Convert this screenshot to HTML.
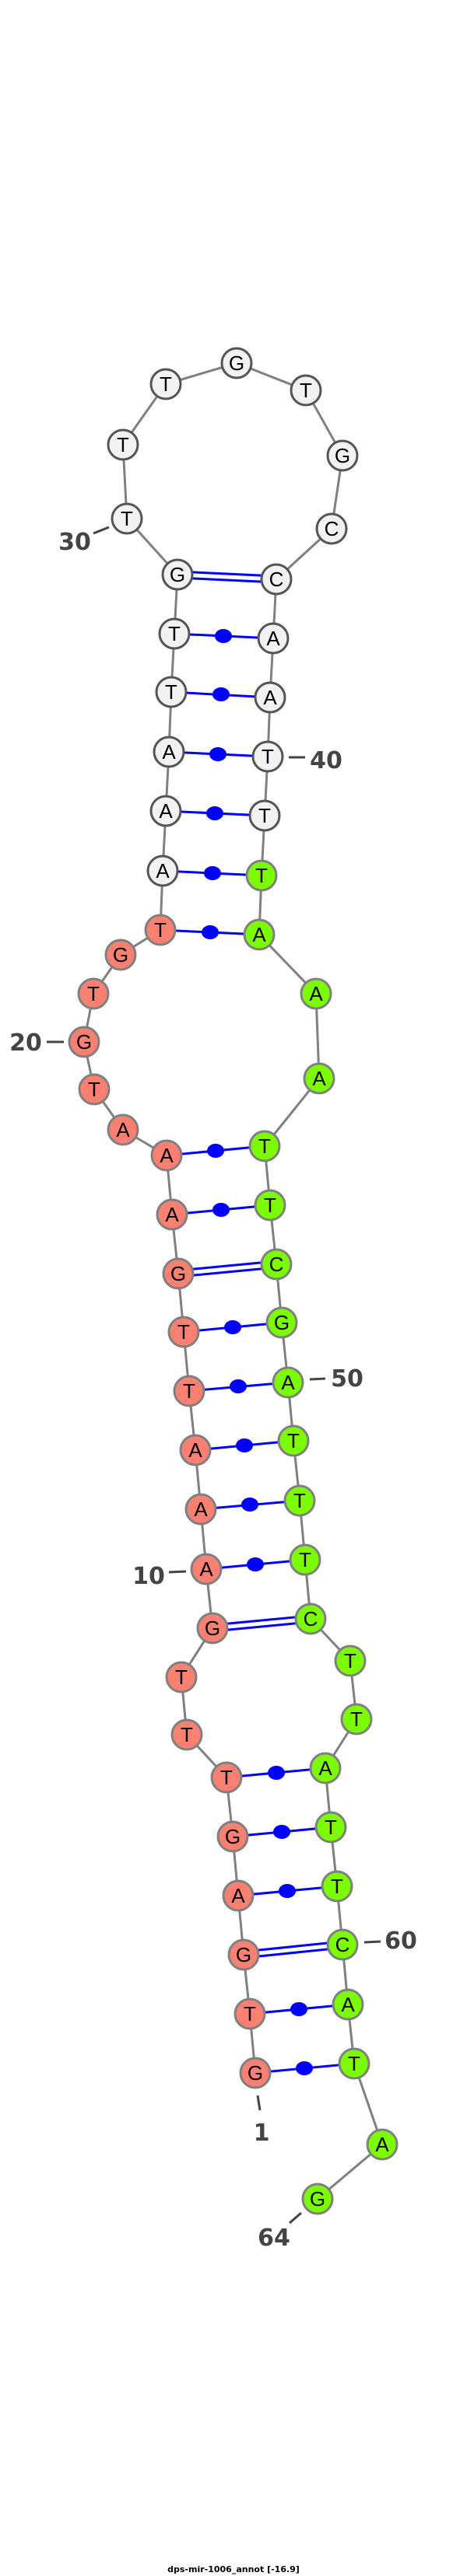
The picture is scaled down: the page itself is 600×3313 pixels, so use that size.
<!DOCTYPE html>
<html><head><meta charset="utf-8"><style>html,body{margin:0;padding:0;background:#fff}svg{display:block}</style></head>
<body>
<svg width="600" height="3313" viewBox="0 0 600 3313" xmlns="http://www.w3.org/2000/svg">
<g stroke="#808080" stroke-width="3" fill="none">
<polyline points="328,2666 321,2590 313,2514 306,2438 299,2362 291,2286 240,2231 233,2157 273,2094 265,2018 258,1941 251,1865 243,1789 236,1713 229,1638 221,1562 214,1486 158,1453 121,1401 108,1340 120,1278 155,1228 206,1196 209,1120 213,1043 217,967 220,890 224,815 228,739 163,667 158,572 213,494 304,467 393,502 440,586 426,680 355,745 351,821 347,897 344,973 340,1049 336,1126 333,1202 406,1278 410,1387 340,1474 347,1550 355,1626 362,1701 370,1778 377,1853 385,1930 392,2006 399,2082 450,2136 458,2211 418,2274 425,2350 433,2426 440,2501 447,2578 455,2654 491,2758 408,2828"/>
</g>
<g stroke="#0000ff" stroke-width="3">
<line x1="328" y1="2666" x2="455" y2="2654"/>
<line x1="321" y1="2590" x2="447" y2="2578"/>
<line x1="313" y1="2510" x2="440" y2="2497"/><line x1="313" y1="2518" x2="440" y2="2505"/>
<line x1="306" y1="2438" x2="433" y2="2426"/>
<line x1="299" y1="2362" x2="425" y2="2350"/>
<line x1="291" y1="2286" x2="418" y2="2274"/>
<line x1="273" y1="2090" x2="399" y2="2078"/><line x1="273" y1="2098" x2="399" y2="2086"/>
<line x1="265" y1="2018" x2="392" y2="2006"/>
<line x1="258" y1="1941" x2="385" y2="1930"/>
<line x1="251" y1="1865" x2="377" y2="1853"/>
<line x1="243" y1="1789" x2="370" y2="1778"/>
<line x1="236" y1="1713" x2="362" y2="1701"/>
<line x1="229" y1="1634" x2="355" y2="1622"/><line x1="229" y1="1642" x2="355" y2="1630"/>
<line x1="221" y1="1562" x2="347" y2="1550"/>
<line x1="214" y1="1486" x2="340" y2="1474"/>
<line x1="206" y1="1196" x2="333" y2="1202"/>
<line x1="209" y1="1120" x2="336" y2="1126"/>
<line x1="213" y1="1043" x2="340" y2="1049"/>
<line x1="217" y1="967" x2="344" y2="973"/>
<line x1="220" y1="890" x2="347" y2="897"/>
<line x1="224" y1="815" x2="351" y2="821"/>
<line x1="228" y1="735" x2="355" y2="741"/><line x1="228" y1="743" x2="355" y2="749"/>
</g>
<g fill="#0000ff">
<ellipse cx="391" cy="2660" rx="11" ry="9"/>
<ellipse cx="384" cy="2584" rx="11" ry="9"/>
<ellipse cx="369" cy="2432" rx="11" ry="9"/>
<ellipse cx="362" cy="2356" rx="11" ry="9"/>
<ellipse cx="355" cy="2280" rx="11" ry="9"/>
<ellipse cx="328" cy="2012" rx="11" ry="9"/>
<ellipse cx="321" cy="1935" rx="11" ry="9"/>
<ellipse cx="314" cy="1859" rx="11" ry="9"/>
<ellipse cx="306" cy="1783" rx="11" ry="9"/>
<ellipse cx="299" cy="1707" rx="11" ry="9"/>
<ellipse cx="284" cy="1556" rx="11" ry="9"/>
<ellipse cx="277" cy="1480" rx="11" ry="9"/>
<ellipse cx="270" cy="1199" rx="11" ry="9"/>
<ellipse cx="273" cy="1123" rx="11" ry="9"/>
<ellipse cx="276" cy="1046" rx="11" ry="9"/>
<ellipse cx="280" cy="970" rx="11" ry="9"/>
<ellipse cx="284" cy="893" rx="11" ry="9"/>
<ellipse cx="287" cy="818" rx="11" ry="9"/>
</g>
<g stroke-width="3">
<g fill="#fa8072" stroke="#808080">
<circle cx="328" cy="2666" r="19"/><circle cx="321" cy="2590" r="19"/><circle cx="313" cy="2514" r="19"/><circle cx="306" cy="2438" r="19"/><circle cx="299" cy="2362" r="19"/><circle cx="291" cy="2286" r="19"/><circle cx="240" cy="2231" r="19"/><circle cx="233" cy="2157" r="19"/><circle cx="273" cy="2094" r="19"/><circle cx="265" cy="2018" r="19"/><circle cx="258" cy="1941" r="19"/><circle cx="251" cy="1865" r="19"/><circle cx="243" cy="1789" r="19"/><circle cx="236" cy="1713" r="19"/><circle cx="229" cy="1638" r="19"/><circle cx="221" cy="1562" r="19"/><circle cx="214" cy="1486" r="19"/><circle cx="158" cy="1453" r="19"/><circle cx="121" cy="1401" r="19"/><circle cx="108" cy="1340" r="19"/><circle cx="120" cy="1278" r="19"/><circle cx="155" cy="1228" r="19"/><circle cx="206" cy="1196" r="19"/>
</g>
<g fill="#f2f2f2" stroke="#555">
<circle cx="209" cy="1120" r="19"/><circle cx="213" cy="1043" r="19"/><circle cx="217" cy="967" r="19"/><circle cx="220" cy="890" r="19"/><circle cx="224" cy="815" r="19"/><circle cx="228" cy="739" r="19"/><circle cx="163" cy="667" r="19"/><circle cx="158" cy="572" r="19"/><circle cx="213" cy="494" r="19"/><circle cx="304" cy="467" r="19"/><circle cx="393" cy="502" r="19"/><circle cx="440" cy="586" r="19"/><circle cx="426" cy="680" r="19"/><circle cx="355" cy="745" r="19"/><circle cx="351" cy="821" r="19"/><circle cx="347" cy="897" r="19"/><circle cx="344" cy="973" r="19"/><circle cx="340" cy="1049" r="19"/>
</g>
<g fill="#7cfc00" stroke="#808080">
<circle cx="336" cy="1126" r="19"/><circle cx="333" cy="1202" r="19"/><circle cx="406" cy="1278" r="19"/><circle cx="410" cy="1387" r="19"/><circle cx="340" cy="1474" r="19"/><circle cx="347" cy="1550" r="19"/><circle cx="355" cy="1626" r="19"/><circle cx="362" cy="1701" r="19"/><circle cx="370" cy="1778" r="19"/><circle cx="377" cy="1853" r="19"/><circle cx="385" cy="1930" r="19"/><circle cx="392" cy="2006" r="19"/><circle cx="399" cy="2082" r="19"/><circle cx="450" cy="2136" r="19"/><circle cx="458" cy="2211" r="19"/><circle cx="418" cy="2274" r="19"/><circle cx="425" cy="2350" r="19"/><circle cx="433" cy="2426" r="19"/><circle cx="440" cy="2501" r="19"/><circle cx="447" cy="2578" r="19"/><circle cx="455" cy="2654" r="19"/><circle cx="491" cy="2758" r="19"/><circle cx="408" cy="2828" r="19"/>
</g>
</g>
<g font-family="Liberation Sans, DejaVu Sans, sans-serif" font-size="26" text-anchor="middle" fill="#000">
<text x="328" y="2675">G</text><text x="321" y="2599">T</text><text x="313" y="2523">G</text><text x="306" y="2447">A</text><text x="299" y="2371">G</text><text x="291" y="2295">T</text><text x="240" y="2240">T</text><text x="233" y="2166">T</text><text x="273" y="2103">G</text><text x="265" y="2027">A</text><text x="258" y="1950">A</text><text x="251" y="1874">A</text><text x="243" y="1798">T</text><text x="236" y="1722">T</text><text x="229" y="1647">G</text><text x="221" y="1571">A</text><text x="214" y="1495">A</text><text x="158" y="1462">A</text><text x="121" y="1410">T</text><text x="108" y="1349">G</text><text x="120" y="1287">T</text><text x="155" y="1237">G</text><text x="206" y="1205">T</text>
<text x="209" y="1129">A</text><text x="213" y="1052">A</text><text x="217" y="976">A</text><text x="220" y="899">T</text><text x="224" y="824">T</text><text x="228" y="748">G</text><text x="163" y="676">T</text><text x="158" y="581">T</text><text x="213" y="503">T</text><text x="304" y="476">G</text><text x="393" y="511">T</text><text x="440" y="595">G</text><text x="426" y="689">C</text><text x="355" y="754">C</text><text x="351" y="830">A</text><text x="347" y="906">A</text><text x="344" y="982">T</text><text x="340" y="1058">T</text>
<text x="336" y="1135">T</text><text x="333" y="1211">A</text><text x="406" y="1287">A</text><text x="410" y="1396">A</text><text x="340" y="1483">T</text><text x="347" y="1559">T</text><text x="355" y="1635">C</text><text x="362" y="1710">G</text><text x="370" y="1787">A</text><text x="377" y="1862">T</text><text x="385" y="1939">T</text><text x="392" y="2015">T</text><text x="399" y="2091">C</text><text x="450" y="2145">T</text><text x="458" y="2220">T</text><text x="418" y="2283">A</text><text x="425" y="2359">T</text><text x="433" y="2435">T</text><text x="440" y="2510">C</text><text x="447" y="2587">A</text><text x="455" y="2663">T</text><text x="491" y="2767">A</text><text x="408" y="2837">G</text>
</g>
<g stroke="#444" stroke-width="3">
<line x1="120" y1="686" x2="140" y2="678"/>
<line x1="371" y1="974" x2="392" y2="974"/>
<line x1="60" y1="1340" x2="82" y2="1340"/>
<line x1="398" y1="1774" x2="418" y2="1773"/>
<line x1="217" y1="2022" x2="239" y2="2021"/>
<line x1="468" y1="2498" x2="489" y2="2497"/>
<line x1="331" y1="2695" x2="334" y2="2714"/>
<line x1="372" y1="2859" x2="387" y2="2846"/>
</g>
<g font-family="DejaVu Sans, Liberation Sans, sans-serif" font-weight="bold" font-size="30" fill="#444" text-anchor="middle">
<text x="96" y="707">30</text>
<text x="419" y="988">40</text>
<text x="33" y="1351">20</text>
<text x="446" y="1783">50</text>
<text x="191" y="2037">10</text>
<text x="515" y="2506">60</text>
<text x="336" y="2753">1</text>
<text x="352" y="2888">64</text>
</g>
<text x="300" y="3308" font-family="DejaVu Sans, Liberation Sans, sans-serif" font-weight="bold" font-size="11" text-anchor="middle" fill="#000">dps-mir-1006_annot [-16.9]</text>
</svg>
</body></html>
